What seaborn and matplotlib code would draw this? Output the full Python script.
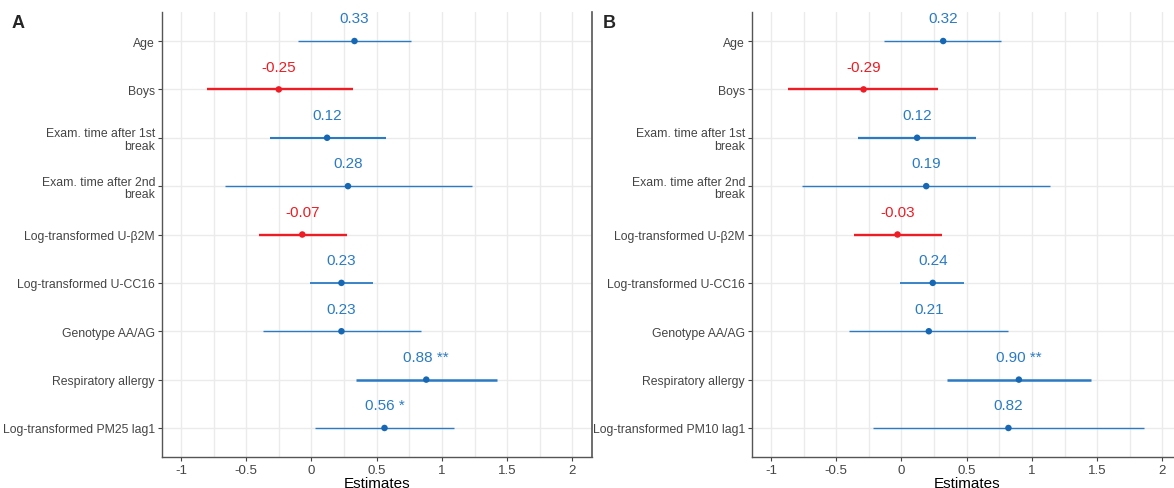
import numpy as np
import pandas as pd
import seaborn as sns
import matplotlib.pyplot as plt
from matplotlib.ticker import MultipleLocator

terms_a = ["Age", "Boys", "Exam. time after 1st\nbreak", "Exam. time after 2nd\nbreak",
           "Log-transformed U-β2M", "Log-transformed U-CC16", "Genotype AA/AG",
           "Respiratory allergy", "Log-transformed PM25 lag1"]
terms_b = terms_a[:-1] + ["Log-transformed PM10 lag1"]

est_a = [0.33, -0.25, 0.12, 0.28, -0.07, 0.23, 0.23, 0.88, 0.56]
low_a = [-0.10, -0.80, -0.32, -0.66, -0.40, -0.01, -0.37, 0.34, 0.03]
high_a = [0.76, 0.32, 0.57, 1.23, 0.27, 0.47, 0.84, 1.42, 1.09]
sig_a = ["", "", "", "", "", "", "", " **", " *"]

est_b = [0.32, -0.29, 0.12, 0.19, -0.03, 0.24, 0.21, 0.90, 0.82]
low_b = [-0.13, -0.87, -0.33, -0.76, -0.36, -0.01, -0.40, 0.35, -0.22]
high_b = [0.76, 0.28, 0.57, 1.14, 0.31, 0.48, 0.82, 1.45, 1.86]
sig_b = ["", "", "", "", "", "", "", " **", ""]

# line weights (thicker = more precise estimate in the original figure)
lw_a = [1.0, 1.7, 1.5, 1.0, 1.7, 1.3, 1.0, 1.8, 1.0]
lw_b = [1.0, 1.7, 1.6, 1.0, 1.7, 1.3, 1.0, 1.8, 1.0]

BLUE = "#2a7bc4"
RED = "#ee1c24"

sns.set_theme(style="whitegrid")
plt.rcParams["font.family"] = ["Liberation Sans", "DejaVu Sans"]

fig = plt.figure(figsize=(11.74, 4.89), dpi=100)
ax_a = fig.add_axes([162 / 1174, 1 - 458 / 489, 430 / 1174, 445 / 489])
ax_b = fig.add_axes([752 / 1174, 1 - 458 / 489, 430 / 1174, 445 / 489])


def draw_panel(ax, terms, est, low, high, sig, lw, right_spine):
    df = pd.DataFrame({"term": terms, "est": est, "low": low, "high": high,
                       "sig": sig, "lw": lw})
    df["pos"] = np.arange(len(df))
    df["dir"] = np.where(df["est"] < 0, "neg", "pos")
    for _, r in df.iterrows():
        c = RED if r["est"] < 0 else BLUE
        ax.hlines(r["pos"], r["low"], r["high"], color=c, lw=r["lw"], zorder=3)
        ax.text(r["est"], r["pos"] - 0.47, f"{r['est']:.2f}{r['sig']}", color=c,
                ha="center", va="center", fontsize=11)
    sns.scatterplot(data=df, x="est", y="pos", hue="dir",
                    palette={"neg": RED, "pos": "#1668b4"}, s=22, ax=ax,
                    legend=False, zorder=4, edgecolor="none")
    ax.set_xlim(-1.145, 2.15)
    ax.set_ylim(len(df) - 0.4, -0.6)
    ax.set_yticks(df["pos"])
    ax.set_yticklabels(df["term"], fontsize=8.8, color="#444444", linespacing=1.05)
    ax.xaxis.set_minor_locator(MultipleLocator(0.25))
    ax.set_xticks([-1, -0.5, 0, 0.5, 1, 1.5, 2])
    ax.set_xticklabels(["-1", "-0.5", "0", "0.5", "1", "1.5", "2"],
                       fontsize=9.5, color="#444444")
    ax.grid(True, which="major", color="#ebebeb", lw=1.0)
    ax.grid(True, which="minor", axis="x", color="#ebebeb", lw=1.0)
    ax.tick_params(axis="both", which="major", length=3, width=0.8,
                   color="#444444", pad=2, left=True, bottom=True)
    ax.tick_params(axis="x", which="minor", length=0)
    ax.set_xlabel("Estimates", fontsize=11, color="black", labelpad=0)
    ax.set_ylabel("")
    for s in ["left", "bottom"]:
        ax.spines[s].set_visible(True)
        ax.spines[s].set_color("#555555")
        ax.spines[s].set_linewidth(1.0)
    ax.spines["top"].set_visible(False)
    ax.spines["right"].set_visible(right_spine)
    if right_spine:
        ax.spines["right"].set_color("#555555")
        ax.spines["right"].set_linewidth(1.2)


draw_panel(ax_a, terms_a, est_a, low_a, high_a, sig_a, lw_a, True)
draw_panel(ax_b, terms_b, est_b, low_b, high_b, sig_b, lw_b, False)

fig.text(12 / 1174, 1 - 23 / 489, "A", fontsize=13, fontweight="bold", va="center")
fig.text(603 / 1174, 1 - 23 / 489, "B", fontsize=13, fontweight="bold", va="center")

fig.savefig("out.png", dpi=100)
